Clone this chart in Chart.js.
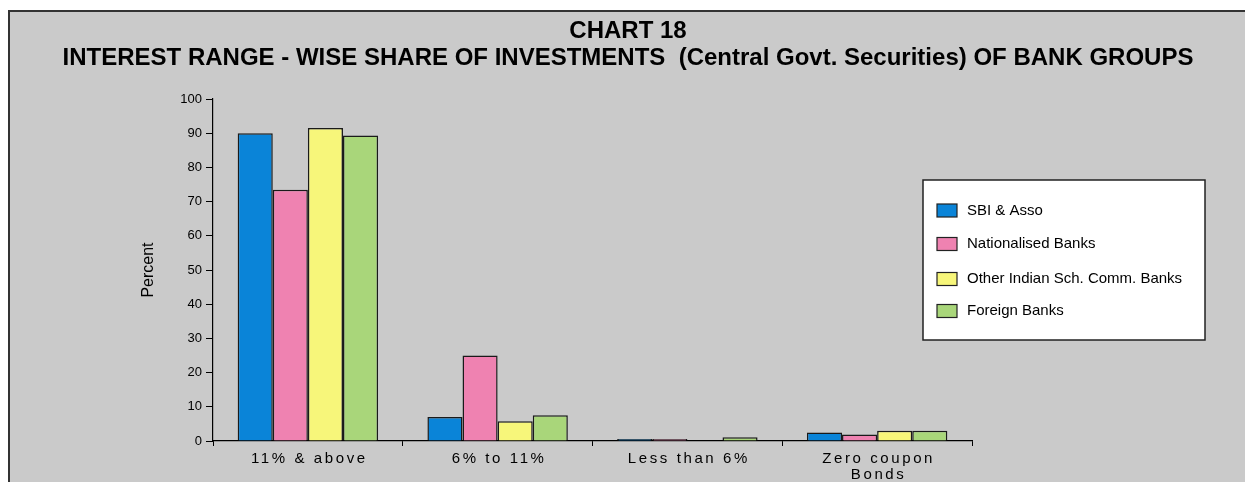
<!DOCTYPE html>
<html>
<head>
<meta charset="utf-8">
<script src="https://cdn.jsdelivr.net/npm/chart.js@4.4.1/dist/chart.umd.min.js"></script>
<style>
  html, body { margin: 0; padding: 0; background: #ffffff; }
  #wrap { width: 1245px; height: 482px; position: relative; }
</style>
</head>
<body>
<div id="wrap"><canvas id="c" width="1245" height="482"></canvas></div>
<script>
// Interest ranges (categories) and the share of each bank group, in percent
const categories = ['11% & above', '6% to 11%', 'Less than 6%', ['Zero coupon', 'Bonds']];
const sbiAsso        = [90.0, 7.0, 0.6, 2.5];
const nationalised   = [73.5, 25.0, 0.6, 1.9];
const otherIndianSCB = [91.5, 5.8, 0.0, 3.0];
const foreignBanks   = [89.3, 7.5, 1.1, 3.0];
const yTicks = [0, 10, 20, 30, 40, 50, 60, 70, 80, 90, 100];

const titleLines = ['CHART 18', 'INTEREST RANGE - WISE SHARE OF INVESTMENTS  (Central Govt. Securities) OF BANK GROUPS'];
const yTitle = 'Percent';

const FONT = '"Liberation Sans", Arial, sans-serif';
const PANEL = '#cacaca';

// Panel background, frame and two-line heading
const framePlugin = {
  id: 'frame',
  beforeDraw(chart) {
    const ctx = chart.ctx;
    ctx.save();
    ctx.fillStyle = '#ffffff';
    ctx.fillRect(0, 0, chart.width, chart.height);
    ctx.fillStyle = PANEL;
    ctx.fillRect(8, 10, chart.width - 8, chart.height - 10);
    ctx.strokeStyle = '#333333';
    ctx.lineWidth = 2;
    ctx.beginPath();
    ctx.moveTo(9, chart.height);
    ctx.lineTo(9, 11);
    ctx.lineTo(chart.width, 11);
    ctx.stroke();

    ctx.fillStyle = '#000000';
    ctx.textAlign = 'center';
    ctx.textBaseline = 'alphabetic';
    ctx.font = 'bold 24px ' + FONT;
    ctx.fillText(titleLines[0], 628, 38);
    ctx.fillText(titleLines[1], 628, 65);
    ctx.restore();
  }
};

// Category labels under the x axis, spaced out as in the printed chart
const xLabelPlugin = {
  id: 'xLabels',
  afterDraw(chart) {
    const ctx = chart.ctx;
    const xs = chart.scales.x;
    ctx.save();
    ctx.fillStyle = '#000000';
    ctx.font = '15px ' + FONT;
    ctx.textAlign = 'center';
    ctx.textBaseline = 'alphabetic';
    if ('letterSpacing' in ctx) ctx.letterSpacing = '2.6px';
    categories.forEach((lab, i) => {
      const x = xs.getPixelForValue(i) + 1.5;
      const lines = Array.isArray(lab) ? lab : [lab];
      lines.forEach((ln, j) => ctx.fillText(ln, x, 463 + j * 16));
    });
    ctx.restore();
  }
};

// Boxed legend at the right of the plot
const legendBoxPlugin = {
  id: 'legendBox',
  afterDraw(chart) {
    const ctx = chart.ctx;
    const rows = [210.5, 244, 279, 311];
    ctx.save();
    ctx.fillStyle = '#ffffff';
    ctx.fillRect(923, 180, 282, 160);
    ctx.strokeStyle = '#222222';
    ctx.lineWidth = 1.5;
    ctx.strokeRect(923, 180, 282, 160);
    ctx.font = '15px ' + FONT;
    ctx.textBaseline = 'middle';
    ctx.textAlign = 'left';
    chart.data.datasets.forEach((ds, i) => {
      const y = rows[i];
      ctx.fillStyle = ds.backgroundColor;
      ctx.fillRect(937, y - 6.5, 20, 13);
      ctx.strokeStyle = '#222222';
      ctx.lineWidth = 1.2;
      ctx.strokeRect(937, y - 6.5, 20, 13);
      ctx.fillStyle = '#000000';
      ctx.fillText(ds.label, 967, y);
    });
    ctx.restore();
  }
};

const barStyle = { borderColor: '#1a1a1a', borderWidth: 1.5 };

new Chart(document.getElementById('c'), {
  type: 'bar',
  data: {
    labels: categories,
    datasets: [
      { label: 'SBI & Asso', data: sbiAsso, backgroundColor: '#0a84d8', ...barStyle },
      { label: 'Nationalised Banks', data: nationalised, backgroundColor: '#ef82b1', ...barStyle },
      { label: 'Other Indian Sch. Comm. Banks', data: otherIndianSCB, backgroundColor: '#f7f67a', ...barStyle },
      { label: 'Foreign Banks', data: foreignBanks, backgroundColor: '#a9d67a', ...barStyle }
    ]
  },
  options: {
    responsive: false,
    animation: false,
    devicePixelRatio: 1,
    layout: { padding: { left: 0, top: 99, right: 273, bottom: 0 } },
    datasets: { bar: { categoryPercentage: 0.74, barPercentage: 1.0 } },
    plugins: {
      legend: { display: false },
      title: { display: false },
      tooltip: { enabled: false }
    },
    scales: {
      x: {
        grid: { display: true, drawOnChartArea: false, drawTicks: true, tickLength: 5, color: '#000000', offset: true },
        border: { display: true, color: '#000000', width: 1.2 },
        ticks: { color: 'rgba(0,0,0,0)', font: { size: 15, family: FONT } },
        afterFit(scale) { scale.height = 41; }
      },
      y: {
        min: 0,
        max: 100,
        afterBuildTicks(scale) { scale.ticks = yTicks.map(v => ({ value: v })); },
        grid: { display: true, drawOnChartArea: false, drawTicks: true, tickLength: 7, color: '#000000' },
        border: { display: true, color: '#000000', width: 1.2 },
        ticks: { color: '#000000', padding: 4, font: { size: 13, family: FONT } },
        title: {
          display: true,
          text: yTitle,
          color: '#000000',
          font: { size: 16, family: FONT },
          padding: { top: 139, bottom: 0 }
        },
        afterFit(scale) { scale.width = 213; }
      }
    }
  },
  plugins: [framePlugin, xLabelPlugin, legendBoxPlugin]
});
</script>
</body>
</html>
